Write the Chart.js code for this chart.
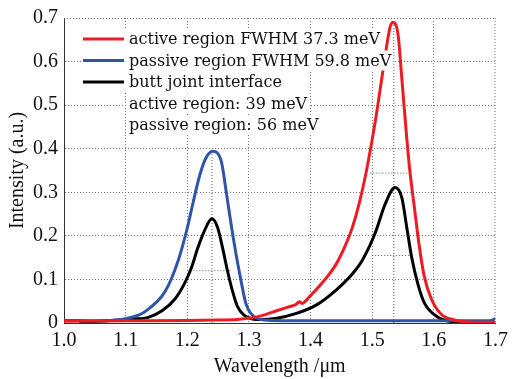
<!DOCTYPE html>
<html>
<head>
<meta charset="utf-8">
<script src="https://cdn.jsdelivr.net/npm/chart.js@4.4.1/dist/chart.umd.min.js"></script>
<style>
  html, body { margin: 0; padding: 0; background: #fff; }
  #wrap { width: 514px; height: 379px; }
</style>
</head>
<body>
<div id="wrap"><canvas id="spectra"></canvas></div>
<script>
// active region (red)
const activeWl  = [1.00, 1.10, 1.20, 1.25, 1.281, 1.313, 1.345, 1.362, 1.377, 1.382, 1.386, 1.398, 1.420, 1.441, 1.457, 1.468, 1.479, 1.490, 1.505, 1.518, 1.529, 1.534, 1.542, 1.548, 1.556, 1.561, 1.568, 1.576, 1.584, 1.596, 1.612, 1.633, 1.665, 1.70];
const activeInt = [0.004, 0.005, 0.006, 0.007, 0.008, 0.014, 0.028, 0.036, 0.043, 0.049, 0.045, 0.060, 0.094, 0.134, 0.180, 0.220, 0.275, 0.345, 0.463, 0.584, 0.679, 0.690, 0.661, 0.562, 0.425, 0.350, 0.270, 0.180, 0.110, 0.055, 0.020, 0.007, 0.002, 0.002];

// passive region (blue)
const passiveWl  = [1.00, 1.058, 1.121, 1.137, 1.159, 1.170, 1.180, 1.190, 1.200, 1.210, 1.220, 1.230, 1.2413, 1.255, 1.263, 1.271, 1.279, 1.287, 1.295, 1.303, 1.324, 1.40, 1.50, 1.60, 1.69, 1.70];
const passiveInt = [0.006, 0.005, 0.018, 0.032, 0.062, 0.088, 0.122, 0.165, 0.218, 0.280, 0.338, 0.378, 0.394, 0.372, 0.303, 0.227, 0.159, 0.098, 0.045, 0.022, 0.007, 0.005, 0.005, 0.005, 0.005, 0.010];

// butt joint interface (black)
const buttWl  = [1.025, 1.07, 1.111, 1.137, 1.159, 1.180, 1.196, 1.207, 1.217, 1.228, 1.2397, 1.249, 1.257, 1.265, 1.273, 1.281, 1.292, 1.319, 1.345, 1.377, 1.409, 1.441, 1.468, 1.484, 1.505, 1.521, 1.537, 1.548, 1.556, 1.564, 1.574, 1.585, 1.606, 1.628, 1.645];
const buttInt = [0.002, 0.005, 0.009, 0.013, 0.028, 0.055, 0.092, 0.128, 0.172, 0.212, 0.239, 0.220, 0.174, 0.121, 0.075, 0.039, 0.018, 0.008, 0.011, 0.022, 0.041, 0.075, 0.113, 0.144, 0.207, 0.273, 0.311, 0.288, 0.220, 0.151, 0.090, 0.045, 0.014, 0.003, 0.001];

// FWHM guide lines
const halfLevels = [0.344, 0.155, 0.12];
const halfStart  = [1.497, 1.500, 1.205];
const halfEnd    = [1.561, 1.561, 1.270];
const peakWl  = [1.24, 1.535];
const peakInt = [0.394, 0.69];

const xTicks = [1.0, 1.1, 1.2, 1.3, 1.4, 1.5, 1.6, 1.7];
const yTicks = [0, 0.1, 0.2, 0.3, 0.4, 0.5, 0.6, 0.7];

const legendLines = [
    { text: 'active region FWHM 37.3 meV', color: '#ec1c24' },
    { text: 'passive region FWHM 59.8 meV', color: '#2f55a8' },
    { text: 'butt joint interface', color: '#000000' },
    { text: 'active region: 39 meV', color: null },
    { text: 'passive region: 56 meV', color: null }
];

const serif = '"Liberation Serif", "DejaVu Serif", serif';

function toPoints(xs, ys) {
    return xs.map((x, i) => ({ x: x, y: ys[i] }));
}

const guideSets = [];
halfLevels.forEach((lvl, i) => {
    guideSets.push({
        data: [{ x: halfStart[i], y: lvl }, { x: halfEnd[i], y: lvl }],
        borderColor: '#555', borderWidth: 1, borderDash: [1, 2],
        pointRadius: 0, order: 5
    });
});
peakWl.forEach((wl, i) => {
    guideSets.push({
        data: [{ x: wl, y: 0 }, { x: wl, y: peakInt[i] }],
        borderColor: '#555', borderWidth: 1, borderDash: [1, 2],
        pointRadius: 0, order: 5
    });
});

function curve(label, xs, ys, color) {
    return {
        label: label,
        data: toPoints(xs, ys),
        borderColor: color,
        borderWidth: 3,
        pointRadius: 0,
        cubicInterpolationMode: 'monotone',
        order: 1
    };
}

// legend drawn inside the plot, each line on a white patch
const innerLegend = {
    id: 'innerLegend',
    afterDatasetsDraw(chart) {
        const ctx = chart.ctx;
        ctx.save();
        ctx.font = '16px "DejaVu Serif", serif';
        ctx.textBaseline = 'middle';
        const x0 = 83, tx = 129, top = 39, step = 21.5;
        legendLines.forEach((l, i) => {
            const y = top + i * step;
            const w = ctx.measureText(l.text).width;
            const bx = l.color ? x0 - 2 : tx - 2;
            ctx.fillStyle = '#fff';
            ctx.fillRect(bx, y - 10, tx + w + 2 - bx, 20);
            if (l.color) {
                ctx.strokeStyle = l.color;
                ctx.lineWidth = 3;
                ctx.beginPath();
                ctx.moveTo(x0, y);
                ctx.lineTo(124, y);
                ctx.stroke();
            }
            ctx.fillStyle = '#111';
            ctx.fillText(l.text, tx, y + 1);
        });
        ctx.restore();
    }
};

// dotted frame on top and right
const frame = {
    id: 'frame',
    beforeDatasetsDraw(chart) {
        const a = chart.chartArea, ctx = chart.ctx;
        ctx.save();
        ctx.strokeStyle = '#666';
        ctx.lineWidth = 1;
        ctx.setLineDash([1, 2]);
        ctx.beginPath();
        ctx.moveTo(a.left, a.top + 0.5);
        ctx.lineTo(a.right, a.top + 0.5);
        ctx.moveTo(a.right - 0.5, a.top);
        ctx.lineTo(a.right - 0.5, a.bottom);
        ctx.stroke();
        ctx.restore();
    }
};

document.addEventListener('DOMContentLoaded', function () {
    const ctx = document.getElementById('spectra').getContext('2d');
    new Chart(ctx, {
        type: 'line',
        data: {
            datasets: [
                curve('active region FWHM 37.3 meV', activeWl, activeInt, '#ec1c24'),
                curve('passive region FWHM 59.8 meV', passiveWl, passiveInt, '#2f55a8'),
                curve('butt joint interface', buttWl, buttInt, '#000000')
            ].concat(guideSets)
        },
        options: {
            responsive: true,
            maintainAspectRatio: false,
            animation: false,
            layout: { padding: { top: 16, right: 12, left: 0, bottom: 0 } },
            plugins: {
                legend: { display: false },
                tooltip: { enabled: false }
            },
            scales: {
                x: {
                    type: 'linear',
                    min: 1.0,
                    max: 1.7,
                    afterFit: (s) => { s.height = 56; },
                    afterBuildTicks: (s) => { s.ticks = xTicks.map(v => ({ value: v })); },
                    grid: {
                        color: (c) => (c.tick && (c.tick.value === 1.0 || c.tick.value === 1.7)) ? 'rgba(0,0,0,0)' : '#777',
                        lineWidth: 1,
                        drawTicks: false
                    },
                    border: { display: true, color: '#333', width: 1, dash: [1, 2] },
                    ticks: {
                        color: '#111',
                        padding: 6,
                        maxRotation: 0,
                        font: { family: serif, size: 20 },
                        callback: (v) => v.toFixed(1)
                    },
                    title: {
                        display: true,
                        text: 'Wavelength /\u03bcm',
                        color: '#111',
                        font: { family: serif, size: 20 },
                        padding: { top: 4, bottom: 0 }
                    }
                },
                y: {
                    min: 0,
                    max: 0.7,
                    afterFit: (s) => { s.width = 64; },
                    afterBuildTicks: (s) => { s.ticks = yTicks.map(v => ({ value: v })); },
                    grid: {
                        color: (c) => (c.tick && (c.tick.value === 0 || c.tick.value === 0.7)) ? 'rgba(0,0,0,0)' : '#777',
                        lineWidth: 1,
                        drawTicks: false
                    },
                    border: { display: true, color: '#333', width: 1, dash: [1, 2] },
                    ticks: {
                        color: '#111',
                        padding: 6,
                        font: { family: serif, size: 20 },
                        callback: (v) => v === 0 ? '0' : v.toFixed(1)
                    },
                    title: {
                        display: true,
                        text: 'Intensity (a.u.)',
                        color: '#111',
                        font: { family: serif, size: 20 },
                        padding: { top: 6, bottom: 0 }
                    }
                }
            }
        },
        plugins: [frame, innerLegend]
    });
});
</script>
</body>
</html>
